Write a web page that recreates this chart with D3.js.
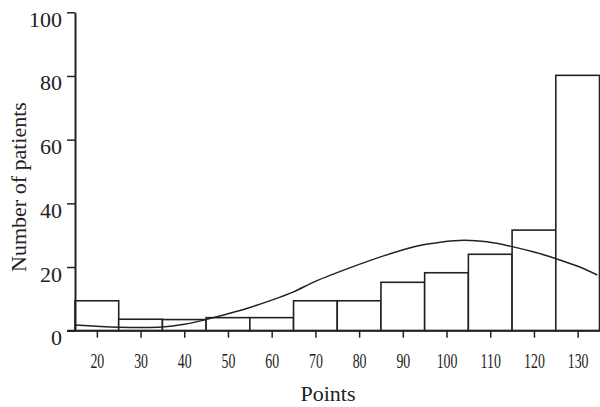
<!DOCTYPE html>
<html>
<head>
<meta charset="utf-8">
<script src="https://cdn.jsdelivr.net/npm/d3@7"></script>
<style>
  html, body { margin: 0; padding: 0; background: #fff; }
  svg { display: block; }
  text { font-family: "Liberation Serif", "DejaVu Serif", serif; fill: #222; }
</style>
</head>
<body>
<svg id="chart" width="600" height="407"></svg>
<script>
// Histogram bins (lower edge) and counts
const binStarts = [15, 25, 35, 45, 55, 65, 75, 85, 95, 105, 115, 125];
const binWidth = 10;
const counts = [9.4, 3.6, 3.5, 4.1, 4.1, 9.4, 9.4, 15.2, 18.2, 24.0, 31.6, 80.2];

// Fitted curve
const curveX = [15, 25, 35, 40, 45, 50, 55, 60, 65, 70, 78, 85.6, 93.3, 98.6, 104, 109.3, 115, 120, 124.9, 129.9, 134.5];
const curveY = [1.8, 1.1, 1.15, 2.0, 3.5, 5.3, 7.3, 9.6, 12.2, 15.5, 19.8, 23.5, 26.6, 27.8, 28.4, 27.9, 26.4, 24.7, 22.7, 20.3, 17.5];

const xTicks = [20, 30, 40, 50, 60, 70, 80, 90, 100, 110, 120, 130];
const yTicks = [0, 20, 40, 60, 80, 100];

const svg = d3.select("#chart");
const x = d3.scaleLinear().domain([15, 135]).range([75, 599.5]);
const y = d3.scaleLinear().domain([0, 100]).range([330.7, 12.3]);
const ink = "#222";

// Bars
svg.append("g").selectAll("rect")
  .data(binStarts.map((s, i) => ({ s, c: counts[i] })))
  .join("rect")
  .attr("x", d => x(d.s))
  .attr("width", d => x(d.s + binWidth) - x(d.s))
  .attr("y", d => y(d.c))
  .attr("height", d => y(0) - y(d.c))
  .attr("fill", "#fff")
  .attr("stroke", ink)
  .attr("stroke-width", 1.6);

// Curve
const line = d3.line()
  .x(d => x(d[0]))
  .y(d => y(d[1]))
  .curve(d3.curveCatmullRom.alpha(0.5));
svg.append("path")
  .datum(curveX.map((v, i) => [v, curveY[i]]))
  .attr("d", line)
  .attr("fill", "none")
  .attr("stroke", ink)
  .attr("stroke-width", 1.5);

// Y axis
const yAxis = svg.append("g")
  .attr("transform", `translate(${x(15)},0)`)
  .call(d3.axisLeft(y).tickValues(yTicks).tickSize(8).tickSizeOuter(0).tickPadding(5));
yAxis.select(".domain").attr("stroke", ink).attr("stroke-width", 2);
yAxis.selectAll(".tick line").attr("stroke", ink).attr("stroke-width", 1.5);
yAxis.selectAll(".tick text")
  .attr("font-size", 22)
  .attr("font-family", "Liberation Serif, serif")
  .attr("fill", ink)
  .attr("dy", null)
  .attr("y", 14)
  .attr("x", -13);

// X axis
const xAxis = svg.append("g")
  .attr("transform", `translate(0,${y(0)})`)
  .call(d3.axisBottom(x).tickValues(xTicks).tickSize(7).tickSizeOuter(0).tickFormat(d3.format("d")));
xAxis.select(".domain").remove();
xAxis.append("line")
  .attr("x1", 67).attr("x2", 600).attr("y1", 0).attr("y2", 0)
  .attr("stroke", ink).attr("stroke-width", 2);
xAxis.selectAll(".tick line").attr("stroke", ink).attr("stroke-width", 1.5);
xAxis.selectAll(".tick text")
  .attr("font-size", 21)
  .attr("font-family", "Liberation Serif, serif")
  .attr("fill", ink)
  .attr("dy", null)
  .attr("y", 0)
  .attr("transform", "translate(0,37.6) scale(0.66,1)");

// Axis titles
svg.append("text")
  .attr("x", 328).attr("y", 401)
  .attr("text-anchor", "middle")
  .attr("font-size", 22)
  .text("Points");

svg.append("text")
  .attr("transform", "translate(25.5,187) rotate(-90)")
  .attr("text-anchor", "middle")
  .attr("font-size", 22)
  .text("Number of patients");
</script>
</body>
</html>
